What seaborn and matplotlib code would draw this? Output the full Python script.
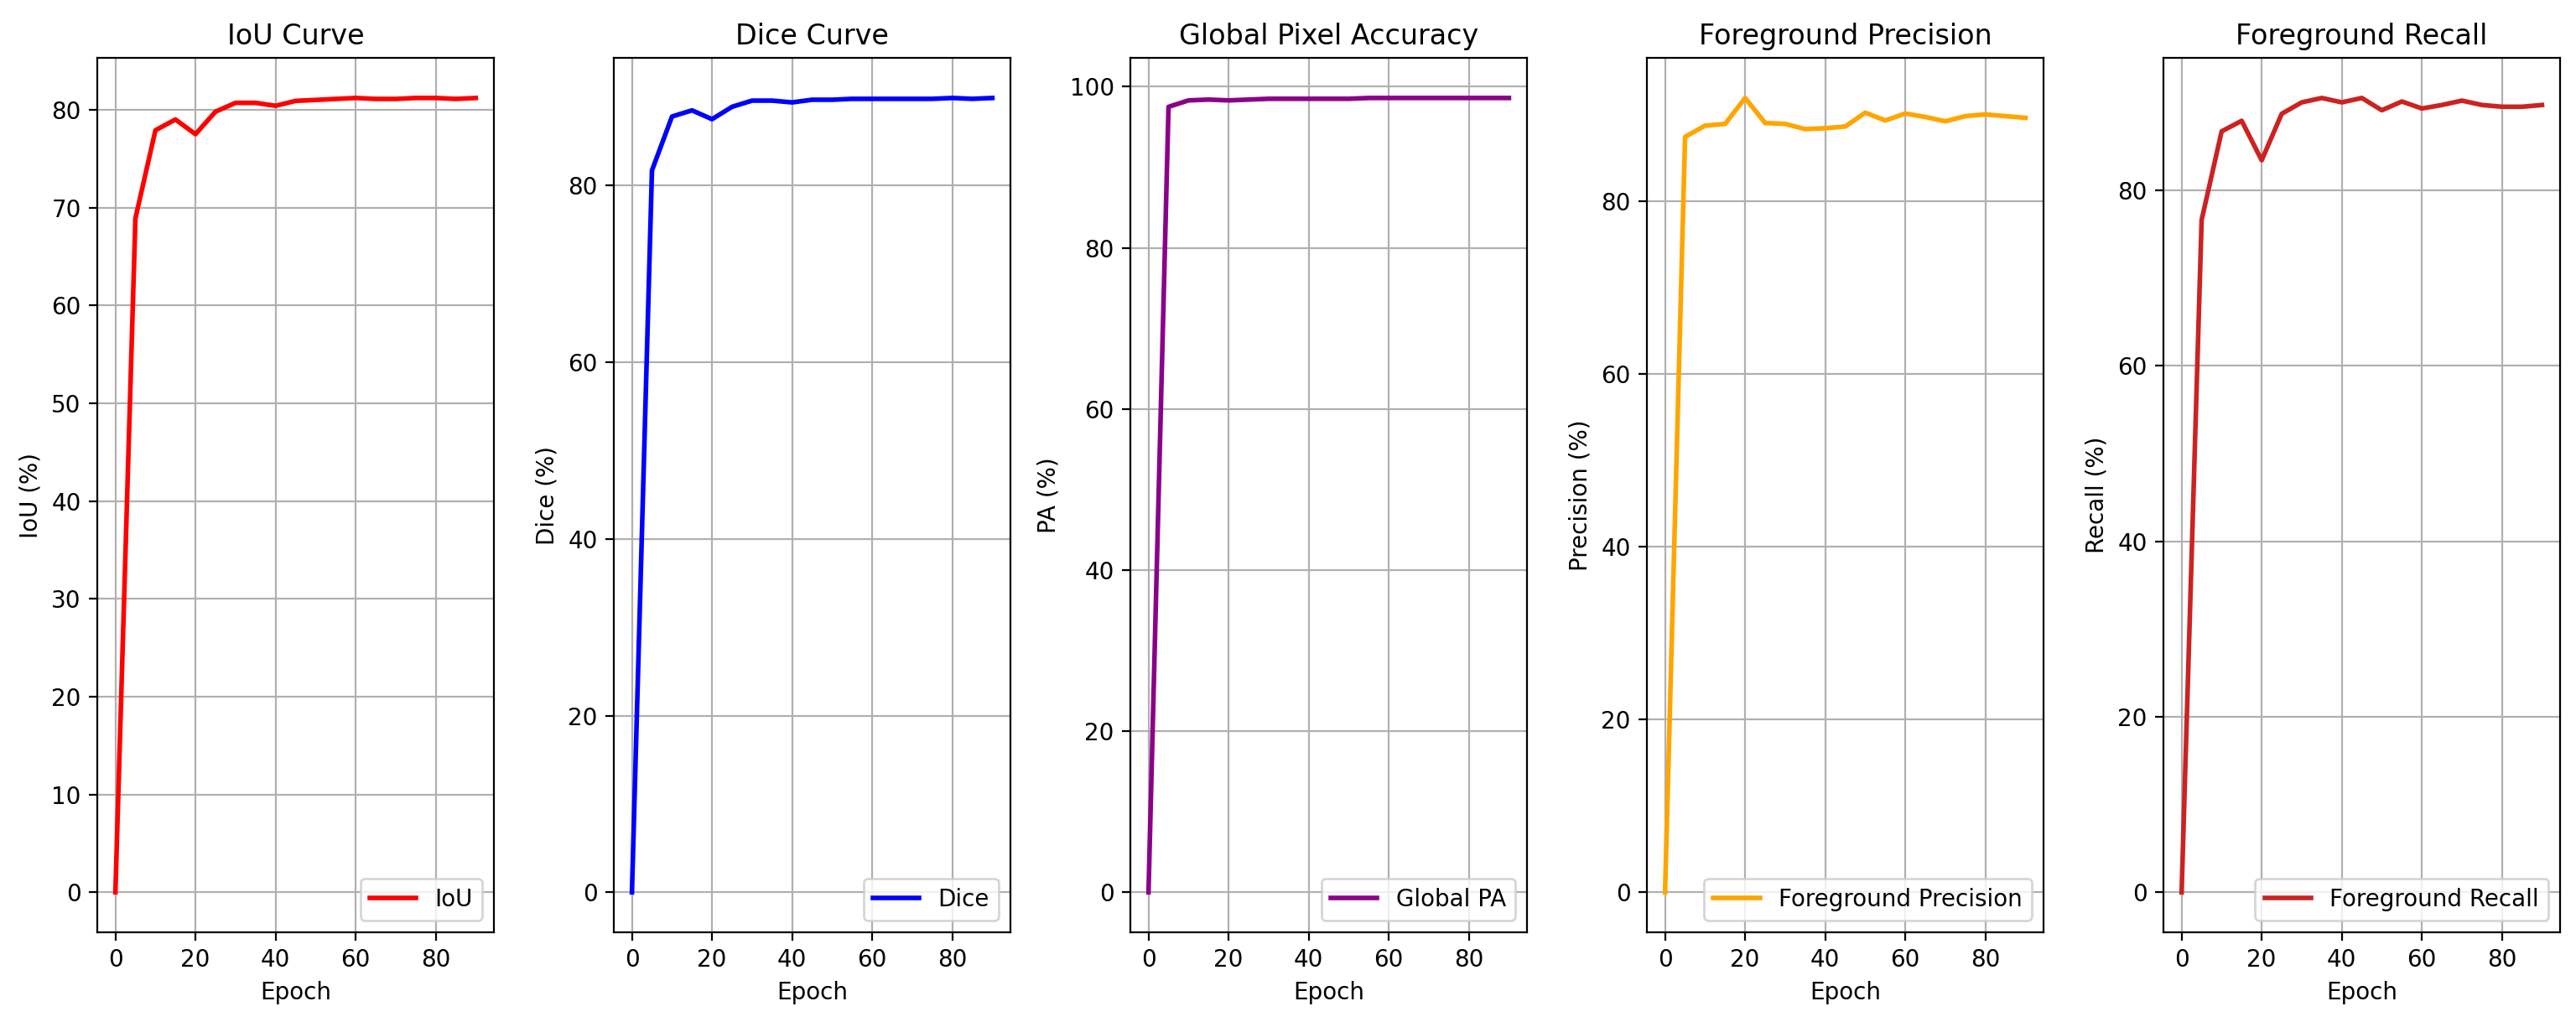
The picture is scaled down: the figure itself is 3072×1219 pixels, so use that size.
import matplotlib
matplotlib.use("Agg")
import matplotlib.pyplot as plt
import seaborn as sns
import pandas as pd

# epochs logged every 5
epochs = [0, 5, 10, 15, 20, 25, 30, 35, 40, 45, 50, 55, 60, 65, 70, 75, 80, 85, 90]

iou = [0.0, 68.9, 77.9, 79.0, 77.5, 79.8, 80.7, 80.7, 80.4, 80.9, 81.0, 81.1, 81.2,
       81.1, 81.1, 81.2, 81.2, 81.1, 81.2]
dice = [0.0, 81.7, 87.8, 88.5, 87.5, 88.9, 89.6, 89.6, 89.4, 89.7, 89.7, 89.8, 89.8,
        89.8, 89.8, 89.8, 89.9, 89.8, 89.9]
pa = [0.0, 97.5, 98.3, 98.4, 98.3, 98.4, 98.5, 98.5, 98.5, 98.5, 98.5, 98.6, 98.6,
      98.6, 98.6, 98.6, 98.6, 98.6, 98.6]
precision = [0.0, 87.4, 88.7, 88.9, 91.9, 89.0, 88.9, 88.3, 88.4, 88.6, 90.2, 89.3,
             90.1, 89.7, 89.2, 89.8, 90.0, 89.8, 89.6]
recall = [0.0, 76.6, 86.7, 87.9, 83.4, 88.7, 90.0, 90.5, 90.0, 90.5, 89.1, 90.1, 89.3,
          89.7, 90.2, 89.7, 89.5, 89.5, 89.7]

df = pd.DataFrame({"epoch": epochs, "iou": iou, "dice": dice, "pa": pa,
                   "precision": precision, "recall": recall})

panels = [
    ("iou", "IoU", "IoU Curve", "IoU (%)", "red"),
    ("dice", "Dice", "Dice Curve", "Dice (%)", "blue"),
    ("pa", "Global PA", "Global Pixel Accuracy", "PA (%)", "darkmagenta"),
    ("precision", "Foreground Precision", "Foreground Precision", "Precision (%)", "orange"),
    ("recall", "Foreground Recall", "Foreground Recall", "Recall (%)", "#cc2222"),
]

fig, axes = plt.subplots(1, 5, figsize=(15.36, 6.095), dpi=200)
fig.subplots_adjust(left=0.0378, right=0.9938, top=0.943, bottom=0.088, wspace=0.303)

for ax, (col, lab, title, ylab, color) in zip(axes, panels):
    sns.lineplot(data=df, x="epoch", y=col, ax=ax, color=color, linewidth=2, label=lab)
    ax.set_title(title)
    ax.set_xlabel("Epoch")
    ax.set_ylabel(ylab)
    ax.grid(True)
    ax.legend(loc="lower right")

plt.savefig("out.png")
